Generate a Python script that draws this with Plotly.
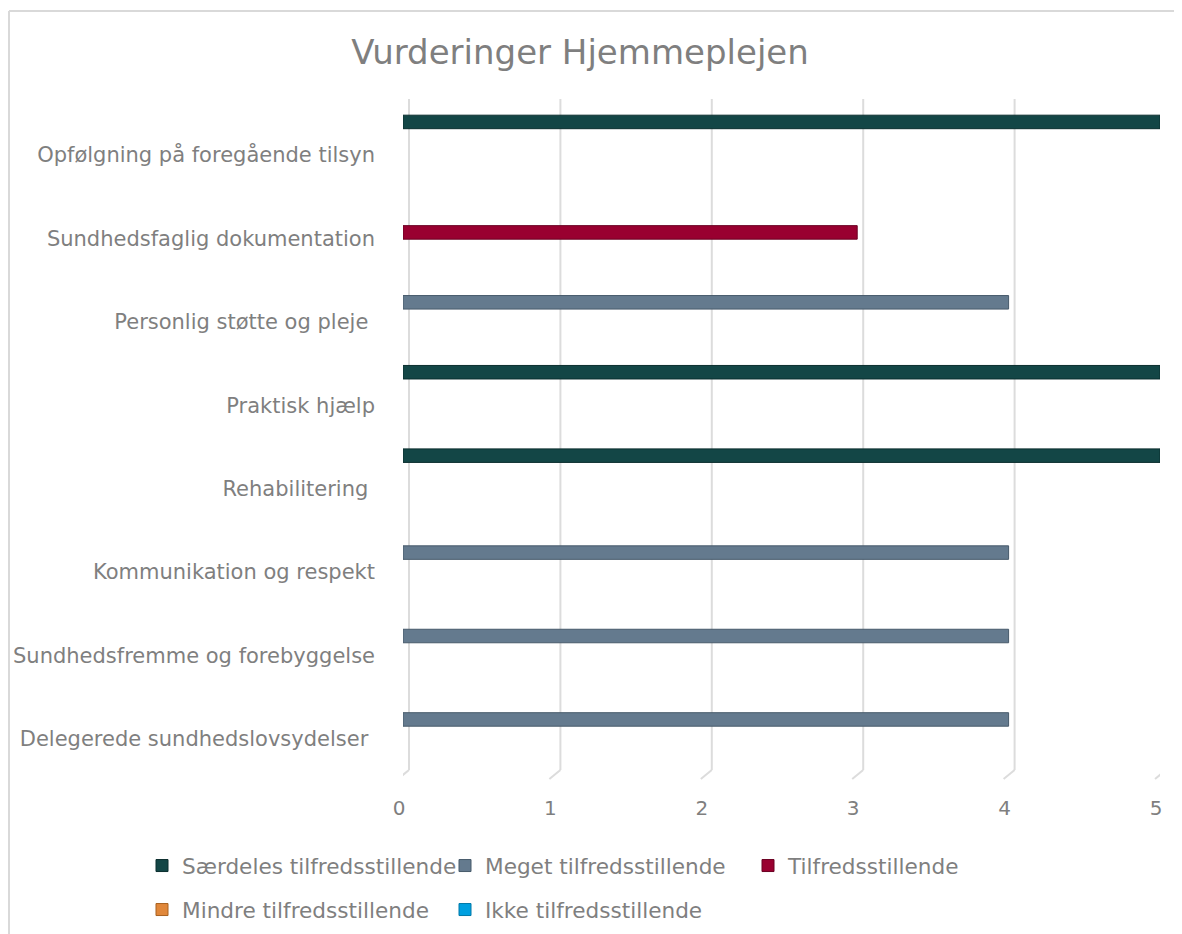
import plotly.graph_objects as go

categories = [
    "Opfølgning på foregående tilsyn",
    "Sundhedsfaglig dokumentation",
    "Personlig støtte og pleje\u00a0",
    "Praktisk hjælp",
    "Rehabilitering\u00a0",
    "Kommunikation og respekt",
    "Sundhedsfremme og forebyggelse",
    "Delegerede sundhedslovsydelser\u00a0",
]
series_names = [
    "Særdeles tilfredsstillende",
    "Meget tilfredsstillende",
    "Tilfredsstillende",
    "Mindre tilfredsstillende",
    "Ikke tilfredsstillende",
]
saerdeles = [5, None, None, 5, 5, None, None, None]
meget = [None, None, 4, None, None, 4, 4, 4]
tilfreds = [None, 3, None, None, None, None, None, None]
mindre = [None, None, None, None, None, None, None, None]
ikke = [None, None, None, None, None, None, None, None]
series_values = [saerdeles, meget, tilfreds, mindre, ikke]
x_ticks = [0, 1, 2, 3, 4, 5]

colors = ["#134646", "#647a8e", "#990030", "#e0873a", "#00a0e0"]
edge_colors = ["#0b2e2e", "#475a6b", "#6b0022", "#a8601f", "#0078a8"]

FONT = "DejaVu Sans"
GRAY = "#7f7f7f"
GRID = "#dcdcdc"

# page offset (body margin) of the rendered html
OFF = 8
W, H = 1182 - OFF, 934 - OFF
L = 403 - OFF
R = W - (1160 - OFF)
T = 99 - OFF
B = H - (770 - OFF)
plot_w = W - L - R
plot_h = H - T - B

px_per_unit_x = plot_w / 5.0


def sx(x):
    return (x - OFF - L) / plot_w


def sy(y):
    return (H - B - (y - OFF)) / plot_h


bar_w = 0.162
centers = [-0.396, -0.234, -0.072, 0.090, 0.252]

fig = go.Figure()
for i, (name, vals) in enumerate(zip(series_names, series_values)):
    fig.add_trace(go.Bar(
        y=categories, x=vals, name=name, orientation="h",
        width=bar_w, offset=centers[i] - bar_w / 2,
        marker=dict(color=colors[i], line=dict(color=edge_colors[i], width=1)),
        legend="legend" if i < 3 else "legend2",
        hoverinfo="x+y",
    ))

legend_common = dict(
    orientation="h", xanchor="left", yanchor="middle",
    font=dict(family=FONT, size=21.6, color=GRAY),
    entrywidth=258, entrywidthmode="pixels",
    bgcolor="rgba(0,0,0,0)", borderwidth=0,
    itemclick=False, itemdoubleclick=False,
)

# 3D-style gridlines: back-wall vertical part shifted right, floor slant to the front
back_dx = 6.0 / px_per_unit_x
front_dx = -5.0 / px_per_unit_x
slant_dy = 9.0 / plot_h
shapes = []
for t in x_ticks:
    shapes.append(dict(type="line", xref="x", yref="paper", layer="below",
                       x0=t + back_dx, x1=t + back_dx, y0=0, y1=1,
                       line=dict(color=GRID, width=2)))
    shapes.append(dict(type="line", xref="x", yref="paper", layer="below",
                       x0=t + back_dx, x1=t + front_dx, y0=0, y1=-slant_dy,
                       line=dict(color=GRID, width=2)))
shapes += [
    dict(type="line", xref="paper", yref="paper",
         x0=sx(9), x1=sx(1200), y0=sy(11), y1=sy(11),
         line=dict(color="#d9d9d9", width=2)),
    dict(type="line", xref="paper", yref="paper",
         x0=sx(9), x1=sx(9), y0=sy(11), y1=sy(950),
         line=dict(color="#d9d9d9", width=2)),
]

fig.update_layout(
    width=W, height=H,
    margin=dict(l=L, r=R, t=T, b=B, autoexpand=False),
    paper_bgcolor="white", plot_bgcolor="white",
    barmode="overlay",
    title=dict(text="Vurderinger Hjemmeplejen", x=(580 - OFF) / W, xanchor="center",
               y=1 - (52 - OFF) / H, yanchor="middle",
               font=dict(family=FONT, size=34, color=GRAY)),
    xaxis=dict(range=[0, 5], tickvals=x_ticks, showgrid=False,
               zeroline=False, automargin=False,
               showline=False, ticks="", ticklabelstandoff=24, ticklabelshift=-4,
               tickfont=dict(family=FONT, size=20, color=GRAY)),
    yaxis=dict(type="category", categoryorder="array", categoryarray=categories,
               range=[7.372, -0.671], autorange=False, automargin=False,
               showgrid=False, zeroline=False, showline=False, ticks="",
               ticklabelstandoff=27,
               tickfont=dict(family=FONT, size=21, color=GRAY)),
    legend=dict(x=sx(142), y=sy(866), **legend_common),
    legend2=dict(x=sx(142), y=sy(910), **legend_common),
    shapes=shapes,
)

fig.write_html("out.html")
